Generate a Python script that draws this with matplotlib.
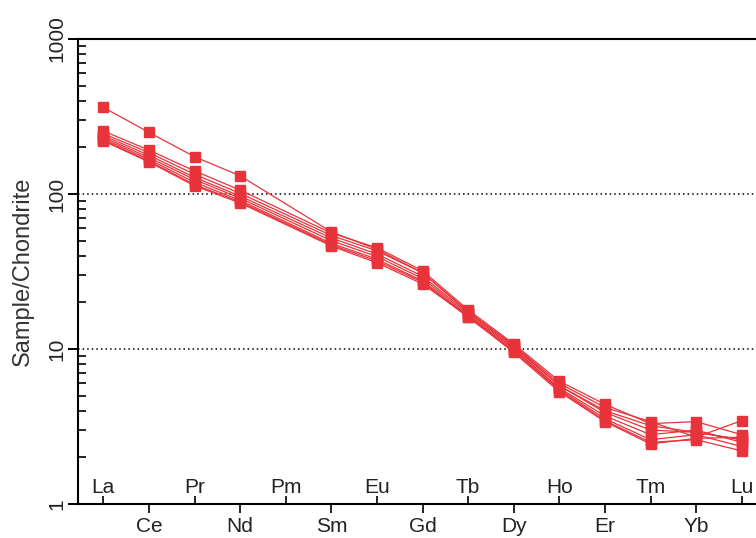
import numpy as np
import matplotlib
matplotlib.use("Agg")
import matplotlib.pyplot as plt
from matplotlib.ticker import FixedLocator, NullFormatter, LogLocator

plt.rcParams['font.family'] = ['Liberation Sans', 'DejaVu Sans']

elements = ["La", "Ce", "Pr", "Nd", "Pm", "Sm", "Eu", "Gd", "Tb", "Dy", "Ho", "Er", "Tm", "Yb", "Lu"]
nan = np.nan
# Chondrite-normalised REE values (Pm not analysed)
s1 = [362, 250, 174, 131, nan, 57.0, 44.0, 31.0, 17.5, 10.5, 5.8, 4.0, 3.2, 2.9, 2.6]
s2 = [255, 192, 141, 106, nan, 56.0, 45.0, 32.0, 17.9, 10.8, 6.2, 4.4, 3.3, 3.4, 2.8]
s3 = [245, 185, 134, 101, nan, 54.0, 43.0, 31.0, 17.3, 10.6, 6.0, 4.2, 3.4, 2.7, 3.45]
s4 = [238, 178, 128, 97, nan, 52.0, 41.0, 29.5, 17.0, 10.3, 5.8, 3.9, 3.0, 2.9, 2.6]
s5 = [232, 172, 124, 94, nan, 50.0, 39.5, 28.5, 16.6, 10.1, 5.6, 3.7, 2.8, 3.0, 2.5]
s6 = [227, 167, 119, 91, nan, 48.0, 38.0, 27.5, 16.3, 9.9, 5.5, 3.55, 2.6, 2.8, 2.35]
s7 = [222, 163, 115, 89, nan, 47.0, 37.0, 27.0, 16.0, 9.7, 5.4, 3.45, 2.5, 2.6, 2.2]
s8 = [220, 161, 113, 87.5, nan, 46.2, 36.0, 26.3, 16.2, 9.5, 5.3, 3.4, 2.44, 2.65, 2.7]
samples = [s1, s2, s3, s4, s5, s6, s7, s8]

red = '#E8333B'

fig = plt.figure(figsize=(7.56, 5.38), dpi=100)
W, H = 756, 538
ax_left_px, ax_right_px, ax_top_px, ax_bot_px = 78, 830, 39, 504
ax = fig.add_axes([ax_left_px / W, 1 - ax_bot_px / H,
                   (ax_right_px - ax_left_px) / W, (ax_bot_px - ax_top_px) / H])

x = np.arange(len(elements))
for s in samples:
    arr = np.array(s, dtype=float)
    m = ~np.isnan(arr)
    ax.plot(x[m], arr[m], color=red, lw=0.9, marker='s', ms=6.5,
            mec=red, mfc=red, zorder=3)

ax.set_yscale('log')
ax.set_ylim(1, 1000)
xpx = 45.6
x0px = 103.3
ax.set_xlim((ax_left_px - x0px) / xpx, (ax_right_px - x0px) / xpx)

for v in (10, 100):
    ax.axhline(v, color='black', lw=1.1, ls=(0, (1, 2)), zorder=1)

for sp in ('top', 'left', 'bottom'):
    ax.spines[sp].set_linewidth(1.5)
ax.spines['right'].set_visible(False)

# y axis
ax.yaxis.set_major_locator(FixedLocator([1, 10, 100, 1000]))
ax.yaxis.set_major_formatter(matplotlib.ticker.FuncFormatter(lambda v, p: f"{int(v)}"))
ax.yaxis.set_minor_locator(LogLocator(base=10, subs=np.arange(2, 10)))
ax.yaxis.set_minor_formatter(NullFormatter())
ax.tick_params(axis='y', which='major', direction='out', length=7.2, width=1.4,
               labelsize=15, pad=1, labelcolor='#222222')
ax.tick_params(axis='y', which='minor', direction='in', length=5.8, width=1.2)
for lab in ax.get_yticklabels():
    lab.set_rotation(90)
    lab.set_va('center')

ax.set_ylabel('Sample/Chondrite', fontsize=17, color='#333333')
ax.yaxis.label.set_va('center')
ax.yaxis.set_label_coords((23 - ax_left_px) / (ax_right_px - ax_left_px), 0.5)

# x axis: odd positions below axis, even positions inside
below = [i for i in range(len(elements)) if i % 2 == 1]
inside = [i for i in range(len(elements)) if i % 2 == 0]
ax.xaxis.set_major_locator(FixedLocator(below))
ax.xaxis.set_major_formatter(matplotlib.ticker.FixedFormatter([elements[i] for i in below]))
ax.xaxis.set_minor_locator(FixedLocator(inside))
ax.xaxis.set_minor_formatter(matplotlib.ticker.FixedFormatter([elements[i] for i in inside]))
ax.tick_params(axis='x', which='major', direction='out', length=6.5, width=1.2,
               labelsize=15, pad=2.5, labelcolor='#222222')
ax.tick_params(axis='x', which='minor', direction='in', length=5.5, width=1.2,
               labelsize=15, pad=-8, labelcolor='#222222')
for lab in ax.get_xticklabels(minor=True):
    lab.set_va('baseline')

fig.savefig('out.png', dpi=100)
